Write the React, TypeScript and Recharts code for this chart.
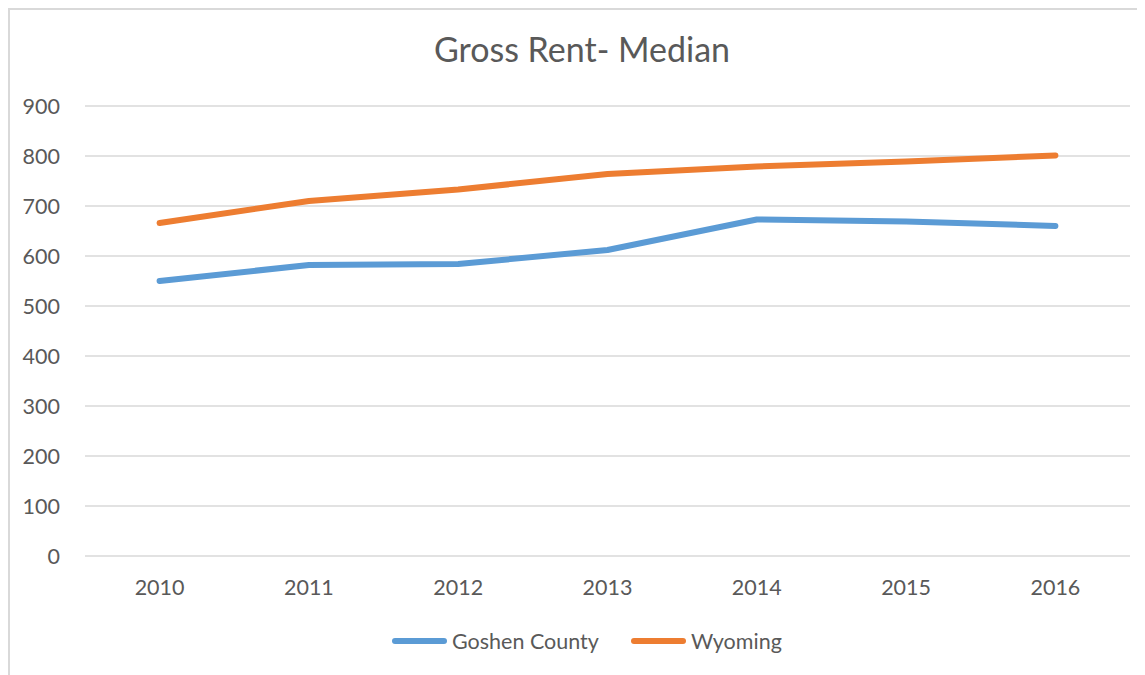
import { LineChart, Line, XAxis, YAxis, CartesianGrid } from 'recharts'

const years = ['2010', '2011', '2012', '2013', '2014', '2015', '2016']
const goshen = [550, 582, 584, 612, 673, 669, 660]
const wyoming = [666, 710, 733, 764, 779, 789, 801]
const yTicks = [0, 100, 200, 300, 400, 500, 600, 700, 800, 900]

const series = [
  { key: 'goshen', name: 'Goshen County', color: '#5B9BD5' },
  { key: 'wyoming', name: 'Wyoming', color: '#ED7D31' },
]

const data = years.map((y, i) => ({ year: y, goshen: goshen[i], wyoming: wyoming[i] }))

const FONT = "Lato, 'Open Sans', sans-serif"
const TEXT = '#595959'
const GRID = '#D9D9D9'

export default function App() {
  return (
    <div
      style={{
        position: 'relative',
        width: 1137,
        height: 667,
        background: '#fff',
        fontFamily: FONT,
      }}
    >
      {/* chart-area frame: only its top and left edges are in view */}
      <div style={{ position: 'absolute', left: 0, top: 0, width: 1137, height: 2, background: GRID }} />
      <div style={{ position: 'absolute', left: 0, top: 0, width: 2, height: 667, background: GRID }} />

      <div
        style={{
          position: 'absolute',
          left: 0,
          top: 24,
          width: 1148,
          textAlign: 'center',
          fontSize: 34,
          lineHeight: '34px',
          color: TEXT,
        }}
      >
        Gross Rent- Median
      </div>

      <LineChart width={1137} height={667} data={data} margin={{ top: 98, right: 15, bottom: 59, left: 0 }}>
        <CartesianGrid vertical={false} stroke={GRID} strokeWidth={1.5} />
        <XAxis
          dataKey="year"
          axisLine={false}
          tickLine={false}
          tickSize={0}
          tickMargin={24}
          height={60}
          padding={{ left: 74.6, right: 74.6 }}
          tick={{ fill: TEXT, fontSize: 21.5, fontFamily: FONT }}
        />
        <YAxis
          domain={[0, 900]}
          ticks={yTicks}
          axisLine={false}
          tickLine={false}
          tickSize={0}
          tickMargin={25}
          width={77}
          tick={{ fill: TEXT, fontSize: 21.5, fontFamily: FONT }}
        />
        {series.map((s) => (
          <Line
            key={s.key}
            type="linear"
            dataKey={s.key}
            name={s.name}
            stroke={s.color}
            strokeWidth={6}
            strokeLinecap="round"
            strokeLinejoin="round"
            dot={false}
            activeDot={false}
            isAnimationActive={false}
          />
        ))}
      </LineChart>

      <div
        style={{
          position: 'absolute',
          left: 384,
          top: 620,
          display: 'flex',
          alignItems: 'center',
          height: 26,
          fontSize: 21.5,
          color: TEXT,
        }}
      >
        {series.map((s, i) => (
          <div key={s.key} style={{ display: 'flex', alignItems: 'center', marginLeft: i ? 32 : 0 }}>
            <svg width={55} height={8} style={{ marginRight: 5 }}>
              <line x1={3} y1={4} x2={52} y2={4} stroke={s.color} strokeWidth={6} strokeLinecap="round" />
            </svg>
            <span>{s.name}</span>
          </div>
        ))}
      </div>
    </div>
  )
}
